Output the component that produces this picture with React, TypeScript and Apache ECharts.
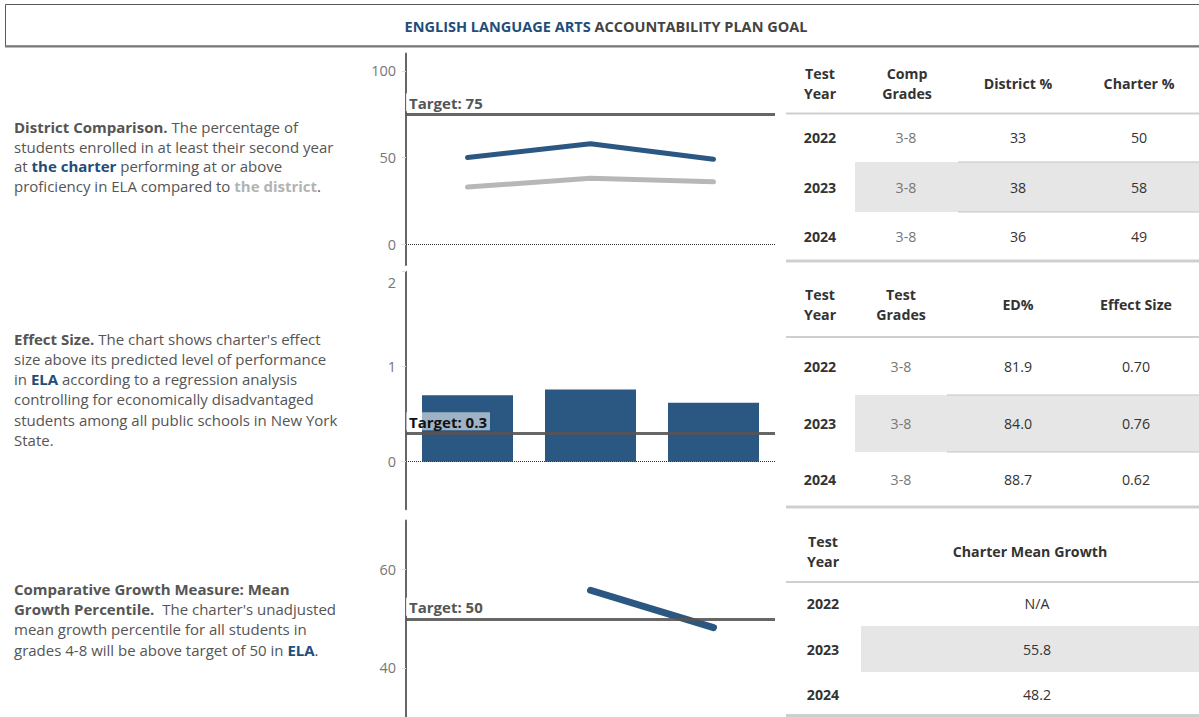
import React, { useEffect, useRef } from "react";
import * as echarts from "echarts";

// ---------- data ----------
const years = ["2022", "2023", "2024"];
const districtPct = [33, 38, 36];
const charterPct = [50, 58, 49];
const compGrades = ["3-8", "3-8", "3-8"];
const testGrades = ["3-8", "3-8", "3-8"];
const edPct = [81.9, 84.0, 88.7];
const effectSize = [0.7, 0.76, 0.62];
const meanGrowth: (number | null)[] = [null, 55.8, 48.2];
const targets = [75, 0.3, 50];
const ticks1 = [0, 50, 100];
const ticks2 = [0, 1, 2];
const ticks3 = [40, 60];

const titleParts = ["ENGLISH LANGUAGE ARTS", " ACCOUNTABILITY PLAN GOAL"];
const text1 = [
  "{b|District Comparison.}{n| The percentage of}",
  "{n|students enrolled in at least their second year}",
  "{n|at }{c|the charter}{n| performing at or above}",
  "{n|proficiency in ELA compared to }{d|the district}{n|.}",
];
const text2 = [
  "{b|Effect Size.}{n| The chart shows charter's effect}",
  "{n|size above its predicted level of performance}",
  "{n|in }{c|ELA}{n| according to a regression analysis}",
  "{n|controlling for economically disadvantaged}",
  "{n|students among all public schools in New York}",
  "{n|State.}",
];
const text3 = [
  "{b|Comparative Growth Measure: Mean}",
  "{b|Growth Percentile.}{n|  The charter's unadjusted}",
  "{n|mean growth percentile for all students in}",
  "{n|grades 4-8 will be above target of 50 in }{c|ELA}{n|.}",
];
const headers1 = ["Test\nYear", "Comp\nGrades", "District %", "Charter %"];
const headers2 = ["Test\nYear", "Test\nGrades", "ED%", "Effect Size"];
const headers3 = ["Test\nYear", "Charter Mean Growth"];

// ---------- styles ----------
const FONT = '"Open Sans", Lato, sans-serif';
const BLUE = "#2b5783";
const DARKBLUE = "#1f4e79";
const GRAYTXT = "#555";
const FS = 15;
const TFS = 14.2;

const rich = {
  n: { fill: GRAYTXT, fontSize: FS, fontFamily: FONT },
  b: { fill: GRAYTXT, fontSize: FS, fontFamily: FONT, fontWeight: "bold" },
  c: { fill: DARKBLUE, fontSize: FS, fontFamily: FONT, fontWeight: "bold" },
  d: { fill: "#b3b3b3", fontSize: FS, fontFamily: FONT, fontWeight: "bold" },
};

function textBlock(lines: string[], y0: number, step: number) {
  return lines.map((t, i) => ({
    type: "text",
    x: 14,
    y: y0 + i * step,
    silent: true,
    style: { text: t, rich, verticalAlign: "middle", align: "left", font: `${FS}px ${FONT}` },
  }));
}

function txt(text: string, x: number, y: number, color: string, bold = false, size = TFS) {
  return {
    type: "text",
    x,
    y,
    silent: true,
    style: {
      text,
      fill: color,
      fontSize: size,
      fontFamily: FONT,
      fontWeight: bold ? "bold" : "normal",
      align: "center",
      verticalAlign: "middle",
      lineHeight: 20,
    },
  };
}

function hline(x1: number, x2: number, y: number, color: string, w: number) {
  return {
    type: "line",
    silent: true,
    shape: { x1, y1: y, x2, y2: y },
    style: { stroke: color, lineWidth: w },
  };
}

function table(cfg: {
  headers: string[];
  headerXs: number[];
  headerY: number;
  headerLineY: number;
  rowYs: number[];
  colXs: number[];
  cols: { values: string[]; color: string; bold: boolean }[];
  band: { x: number; y1: number; y2: number };
  bandLineX: number | null;
  bottomY: number;
}) {
  const els: any[] = [];
  els.push({
    type: "rect",
    silent: true,
    shape: { x: cfg.band.x, y: cfg.band.y1, width: 1199 - cfg.band.x, height: cfg.band.y2 - cfg.band.y1 },
    style: { fill: "#e6e6e6" },
  });
  if (cfg.bandLineX !== null) {
    els.push(hline(cfg.bandLineX, 1199, cfg.band.y1, "#c4c4c4", 1));
    els.push(hline(cfg.bandLineX, 1199, cfg.band.y2, "#c4c4c4", 1));
  }
  els.push(hline(786, 1199, cfg.headerLineY, "#cfcfcf", 2));
  els.push(hline(786, 1199, cfg.bottomY, "#cfcfcf", 3));
  cfg.headers.forEach((h, i) => els.push(txt(h, cfg.headerXs[i], cfg.headerY, "#333", true)));
  cfg.cols.forEach((c, ci) =>
    c.values.forEach((v, ri) => els.push(txt(v, cfg.colXs[ci], cfg.rowYs[ri], c.color, c.bold)))
  );
  return els;
}

function targetLine(value: number, labelColor: string, labelBg: string) {
  return {
    yAxis: value,
    lineStyle: { color: "rgba(85,85,85,0.9)", width: 3, type: "solid" },
    label: {
      show: true,
      position: "insideStartTop",
      formatter: "Target: " + value,
      color: labelColor,
      fontFamily: FONT,
      fontWeight: "bold",
      fontSize: 15,
      backgroundColor: labelBg,
      padding: [2, 3, 1, 3],
      distance: [0, 3],
    },
  };
}

function zeroLine(value: number) {
  return { yAxis: value, lineStyle: { color: "#333", width: 1, type: "dotted" }, label: { show: false } };
}

function yAxisCfg(grid: number, min: number, max: number, ticks: number[], shiftTop?: boolean) {
  return {
    type: "value",
    gridIndex: grid,
    min,
    max,
    splitLine: { show: false },
    axisLine: { show: true, lineStyle: { color: "#666", width: 2 } },
    axisTick: { show: true, customValues: ticks, length: 4, lineStyle: { color: "#dadada" } },
    axisLabel: {
      customValues: ticks,
      color: "#777",
      fontSize: 14.5,
      fontFamily: FONT,
      margin: 10,
      ...(shiftTop
        ? {
            formatter: (v: number) => (v === max ? "{t|" + v + "}" : String(v)),
            rich: { t: { padding: [22, 0, 0, 0], color: "#777", fontSize: 14.5, fontFamily: FONT } },
          }
        : {}),
    },
  };
}

export default function App() {
  const ref = useRef<HTMLDivElement>(null);
  useEffect(() => {
    if (!ref.current) return;
    const chart = echarts.init(ref.current, null, { renderer: "svg" });

    const graphics: any[] = [
      {
        type: "rect",
        silent: true,
        shape: { x: 5.5, y: 4.5, width: 1200, height: 41.5 },
        style: { fill: "#fff", stroke: "#5a5a5a", lineWidth: 1 },
      },
      hline(5, 1199, 46.5, "#7a7a7a", 2),
      {
        type: "text",
        x: 606,
        y: 26,
        silent: true,
        style: {
          text: "{a|" + titleParts[0] + "}{b|" + titleParts[1] + "}",
          align: "center",
          verticalAlign: "middle",
          rich: {
            a: { fill: DARKBLUE, fontSize: 14.5, fontFamily: FONT, fontWeight: "bold" },
            b: { fill: "#444", fontSize: 14.5, fontFamily: FONT, fontWeight: "bold" },
          },
        },
      },
      ...textBlock(text1, 127, 19.7),
      ...textBlock(text2, 338.5, 20.3),
      ...textBlock(text3, 588.5, 20.4),
      ...table({
        headers: headers1,
        headerXs: [820, 907, 1018, 1139],
        headerY: 83.5,
        headerLineY: 113.5,
        rowYs: [137, 187, 236],
        colXs: [820, 906, 1018, 1139],
        cols: [
          { values: years, color: "#333", bold: true },
          { values: compGrades, color: "#777", bold: false },
          { values: districtPct.map(String), color: "#333", bold: false },
          { values: charterPct.map(String), color: "#333", bold: false },
        ],
        band: { x: 855, y1: 162, y2: 212 },
        bandLineX: 958,
        bottomY: 261,
      }),
      ...table({
        headers: headers2,
        headerXs: [820, 901, 1018, 1136],
        headerY: 304,
        headerLineY: 337,
        rowYs: [366, 423, 479],
        colXs: [820, 901, 1018, 1136],
        cols: [
          { values: years, color: "#333", bold: true },
          { values: testGrades, color: "#777", bold: false },
          { values: edPct.map((v) => v.toFixed(1)), color: "#333", bold: false },
          { values: effectSize.map((v) => v.toFixed(2)), color: "#333", bold: false },
        ],
        band: { x: 855, y1: 395, y2: 452 },
        bandLineX: 947,
        bottomY: 507,
      }),
      ...table({
        headers: headers3,
        headerXs: [823, 1030],
        headerY: 551,
        headerLineY: 582,
        rowYs: [603, 649, 694],
        colXs: [823, 1037],
        cols: [
          { values: years, color: "#333", bold: true },
          { values: meanGrowth.map((v) => (v === null ? "N/A" : v.toFixed(1))), color: "#333", bold: false },
        ],
        band: { x: 861, y1: 626, y2: 672 },
        bandLineX: null,
        bottomY: 715.5,
      }),
    ];

    chart.setOption({
      animation: false,
      grid: [
        { left: 406, top: 53.6, width: 369, height: 211.4 },
        { left: 406, top: 271.7, width: 369, height: 237.5 },
        { left: 406, top: 520.5, width: 369, height: 198 },
      ],
      xAxis: [0, 1, 2].map((i) => ({ type: "category", gridIndex: i, data: years, show: false })),
      yAxis: [
        yAxisCfg(0, -12, 110, ticks1),
        yAxisCfg(1, -0.5, 2, ticks2, true),
        yAxisCfg(2, 30, 70, ticks3),
      ],
      series: [
        {
          type: "line",
          name: "District",
          xAxisIndex: 0,
          yAxisIndex: 0,
          data: districtPct,
          symbol: "none",
          lineStyle: { color: "#b7b7b7", width: 5, cap: "round", join: "round" },
          z: 3,
        },
        {
          type: "line",
          name: "Charter",
          xAxisIndex: 0,
          yAxisIndex: 0,
          data: charterPct,
          symbol: "none",
          lineStyle: { color: BLUE, width: 5, cap: "round", join: "round" },
          z: 3,
          markLine: {
            symbol: "none",
            silent: true,
            data: [targetLine(targets[0], GRAYTXT, "rgba(255,255,255,0.85)"), zeroLine(0)],
          },
        },
        {
          type: "bar",
          name: "Effect Size",
          xAxisIndex: 1,
          yAxisIndex: 1,
          data: effectSize,
          barWidth: 91,
          itemStyle: { color: BLUE },
          markLine: {
            symbol: "none",
            silent: true,
            data: [targetLine(targets[1], "#111", "rgba(255,255,255,0.55)"), zeroLine(0)],
          },
        },
        {
          type: "line",
          name: "Mean Growth",
          xAxisIndex: 2,
          yAxisIndex: 2,
          data: meanGrowth,
          symbol: "none",
          connectNulls: false,
          lineStyle: { color: BLUE, width: 7, cap: "round", join: "round" },
          z: 3,
          markLine: {
            symbol: "none",
            silent: true,
            data: [targetLine(targets[2], GRAYTXT, "rgba(255,255,255,0.85)")],
          },
        },
      ],
      graphic: { elements: graphics },
    });
    return () => chart.dispose();
  }, []);
  return <div ref={ref} style={{ position: "absolute", left: 0, top: 0, width: 1199, height: 717 }} />;
}
